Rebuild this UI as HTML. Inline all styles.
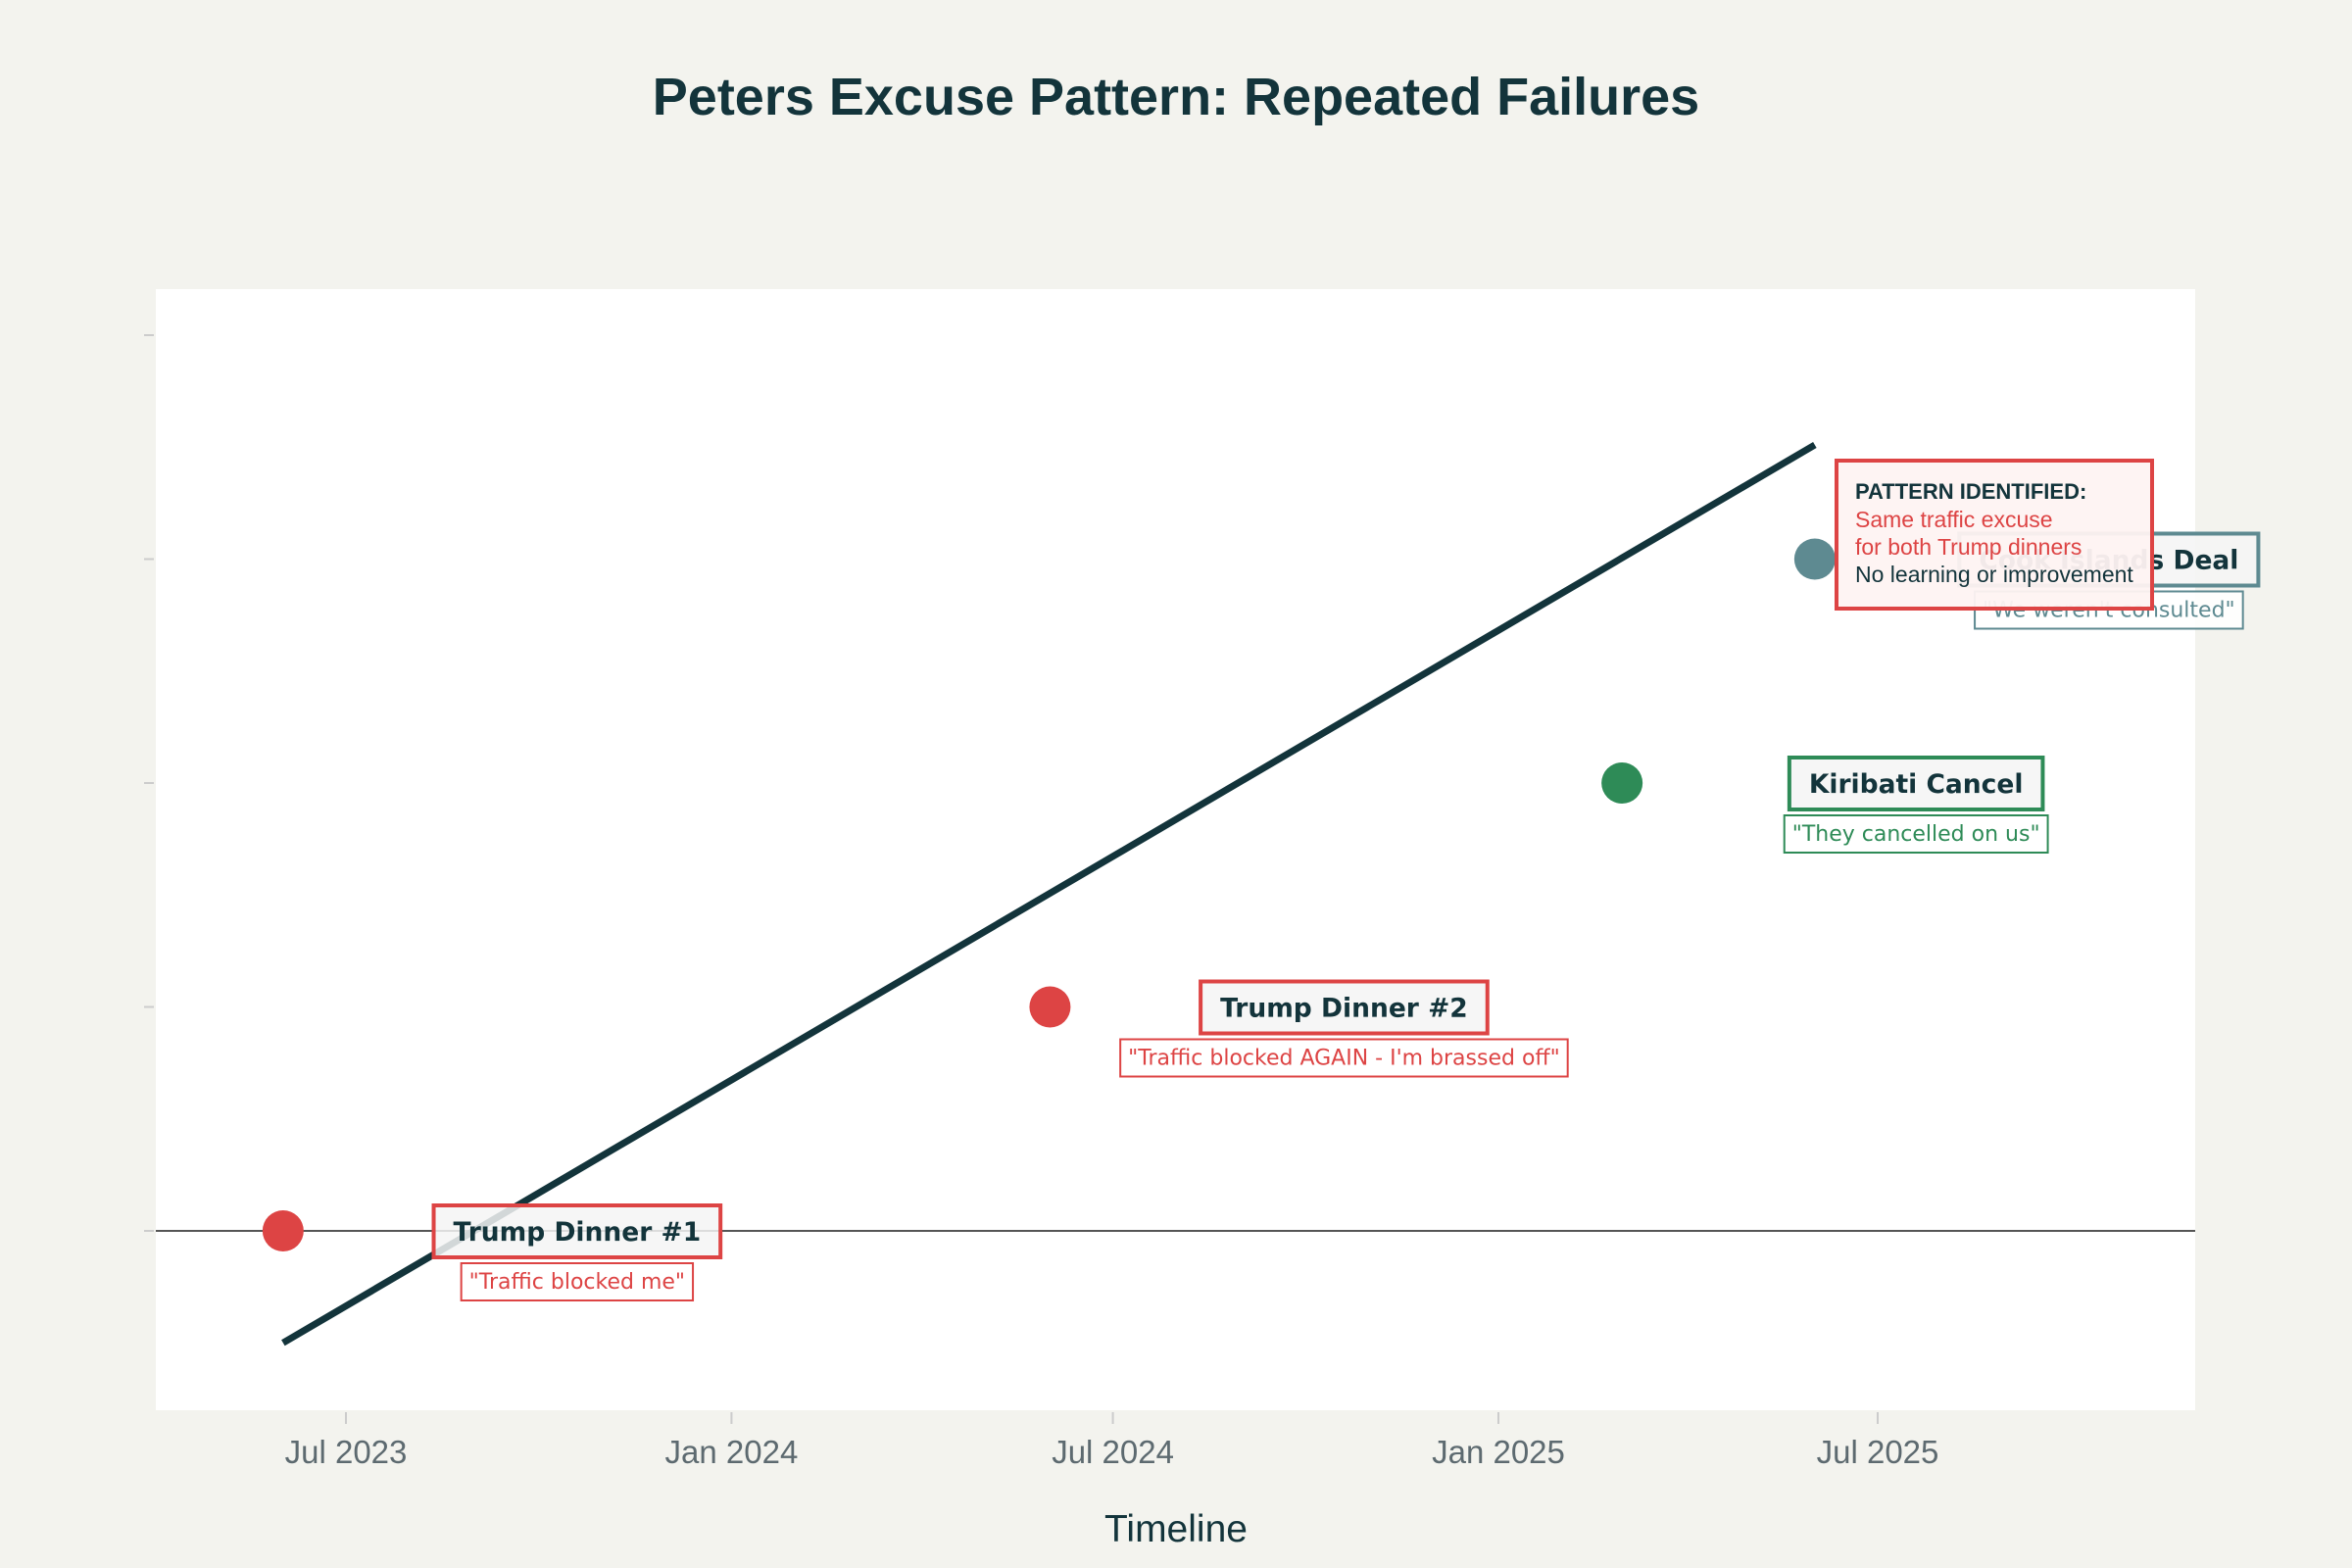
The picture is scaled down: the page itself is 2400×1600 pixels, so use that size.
<!DOCTYPE html>
<html><head><meta charset="utf-8"><style>
html,body{margin:0;padding:0;background:#f3f3ee;}
svg{display:block;}
</style></head><body>
<svg id="chart" width="2400" height="1600" xmlns="http://www.w3.org/2000/svg">
<rect width="2400" height="1600" fill="#f3f3ee"/>
<text x="1200" y="117" text-anchor="middle" font-family="Liberation Sans, sans-serif" font-weight="bold" font-size="54" fill="#13343b">Peters Excuse Pattern: Repeated Failures</text>
<rect x="159" y="295" width="2081" height="1144" fill="#ffffff"/>
<g id="grid"></g>
<g id="trend"></g>
<g id="points"></g>
<g id="labels"></g>
<g id="pattern">
<rect x="1874" y="470" width="322" height="151" fill="#fef3f2" fill-opacity="0.95" stroke="#dd4444" stroke-width="4"/>
<text x="1893" y="509" font-family="Liberation Sans, sans-serif" font-weight="bold" font-size="22" fill="#13343b">PATTERN IDENTIFIED:</text>
<text x="1893" y="538" font-family="Liberation Sans, sans-serif" font-size="23" fill="#dd4444">Same traffic excuse</text>
<text x="1893" y="566" font-family="Liberation Sans, sans-serif" font-size="23" fill="#dd4444">for both Trump dinners</text>
<text x="1893" y="594" font-family="Liberation Sans, sans-serif" font-size="23" fill="#13343b">No learning or improvement</text>
</g>
<text x="1200" y="1573" text-anchor="middle" font-family="Liberation Sans, sans-serif" font-size="39" fill="#13343b">Timeline</text>
</svg>
<script>
const eventNames = ["Trump Dinner #1", "Trump Dinner #2", "Kiribati Cancel", "Cook Islands Deal"];
const eventDates = ["2023-06-01", "2024-06-01", "2025-03-01", "2025-06-01"];
const eventLevels = [0, 1, 2, 3];
const eventQuotes = ["\"Traffic blocked me\"", "\"Traffic blocked AGAIN - I'm brassed off\"", "\"They cancelled on us\"", "\"We weren't consulted\""];
const eventColors = ["#dd4444", "#dd4444", "#2e8b57", "#5e8a91"];
const trendDates = ["2023-06-01", "2025-06-01"];
const trendValues = [-0.5, 3.51];
const xTickDates = ["2023-07-01", "2024-01-01", "2024-07-01", "2025-01-01", "2025-07-01"];
const xTickLabels = ["Jul 2023", "Jan 2024", "Jul 2024", "Jan 2025", "Jul 2025"];
const yTickValues = [0, 1, 2, 3, 4];

const NS = "http://www.w3.org/2000/svg";
const d0 = Date.parse("2023-07-01"), d1 = Date.parse("2025-01-01");
function xScale(d){ return 353 + (Date.parse(d) - d0) / (d1 - d0) * (1529 - 353); }
function yScale(v){ return 1256 - v * 228.5; }
function mk(tag, attrs, parent){ const e = document.createElementNS(NS, tag); for (const k in attrs) e.setAttribute(k, attrs[k]); parent.appendChild(e); return e; }

const grid = document.getElementById("grid");
xTickDates.forEach((d, i) => {
  const x = xScale(d);
  const t = mk("line", {x1:x, x2:x, y1:1441, y2:1453, stroke:"#cccccc", "stroke-width":2}, grid);
  
  
  const l = mk("text", {x:x, y:1493, "text-anchor":"middle", "font-family":"Liberation Sans, sans-serif", "font-size":33, fill:"#5d6a70"}, grid);
  l.textContent = xTickLabels[i];
  
  
});
yTickValues.forEach(v => {
  const y = yScale(v);
  const t = mk("line", {x1:147, x2:157, y1:y, y2:y, stroke:"#cccccc", "stroke-width":2}, grid);
  
  
});
const zl = mk("line", {x1:159, x2:2240, y1:yScale(0), y2:yScale(0), stroke:"#555555", "stroke-width":2}, grid);



const trend = document.getElementById("trend");
const tl = mk("line", {x1:xScale(trendDates[0]), y1:yScale(trendValues[0]), x2:xScale(trendDates[1]), y2:yScale(trendValues[1]), stroke:"#13343b", "stroke-width":7}, trend);



const pts = document.getElementById("points");
const labs = document.getElementById("labels");
eventNames.forEach((n, i) => {
  const x = xScale(eventDates[i]), y = yScale(eventLevels[i]);
  const c = mk("circle", {cx:x, cy:y, r:21, fill:eventColors[i]}, pts);
  
  
  const cx = x + 300;
  const g = mk("g", {}, labs);
  
  
  const t = mk("text", {x:cx, y:y + 10, "text-anchor":"middle", "font-family":"DejaVu Sans, sans-serif", "font-weight":"bold", "font-size":26.5, fill:"#13343b"}, g);
  t.textContent = n;
  const q = mk("text", {x:cx, y:y + 59, "text-anchor":"middle", "font-family":"DejaVu Sans, sans-serif", "font-size":22, fill:eventColors[i]}, g);
  q.textContent = eventQuotes[i];
  const b1 = t.getBBox(), b2 = q.getBBox();
  const r1 = document.createElementNS(NS, "rect");
  const w1 = b1.width + 40;
  r1.setAttribute("x", cx - w1/2); r1.setAttribute("y", y - 26); r1.setAttribute("width", w1); r1.setAttribute("height", 53);
  r1.setAttribute("fill", "#f5f5f5"); r1.setAttribute("fill-opacity", "0.85"); r1.setAttribute("stroke", eventColors[i]); r1.setAttribute("stroke-width", 4);
  
  
  g.insertBefore(r1, t);
  const r2 = document.createElementNS(NS, "rect");
  const w2 = b2.width + 16;
  r2.setAttribute("x", cx - w2/2); r2.setAttribute("y", y + 33); r2.setAttribute("width", w2); r2.setAttribute("height", 38);
  r2.setAttribute("fill", "#ffffff"); r2.setAttribute("fill-opacity", "0.85"); r2.setAttribute("stroke", eventColors[i]); r2.setAttribute("stroke-width", 2);
  
  
  g.insertBefore(r2, q);
});
</script>
</body></html>
